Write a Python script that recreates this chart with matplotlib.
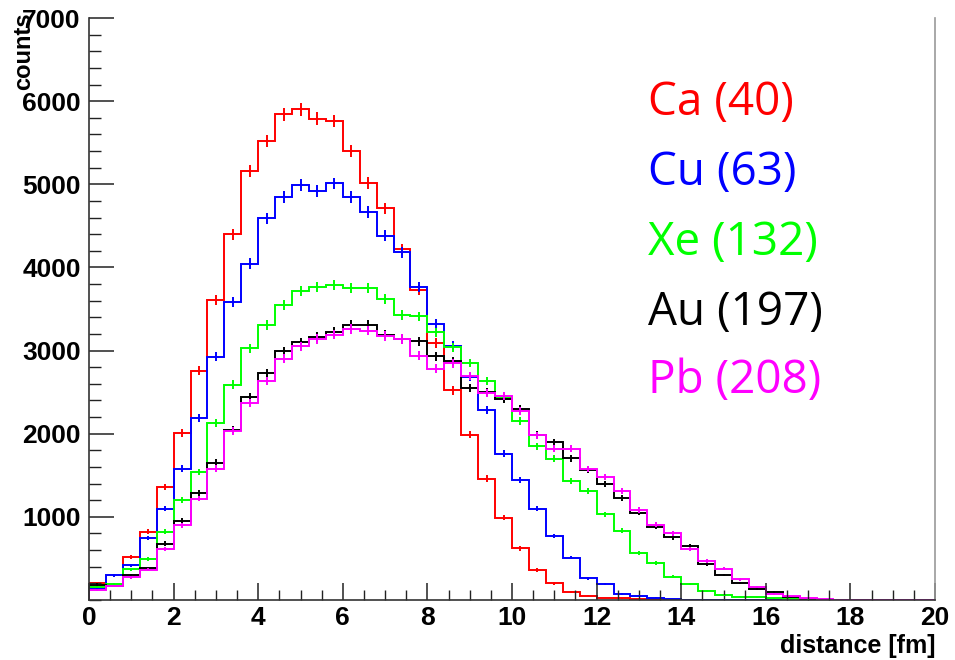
import numpy as np
import matplotlib
matplotlib.use("Agg")
import matplotlib.pyplot as plt
from matplotlib.ticker import MultipleLocator, FixedLocator

# ---- data (50 bins of 0.4 fm from 0 to 20 fm) ----
bin_lo = 0.0
bin_hi = 20.0
n_bins = 50

ca_40 = [200, 170, 520, 820, 1360, 2010, 2760, 3610, 4400, 5160,
         5520, 5840, 5900, 5790, 5760, 5400, 5020, 4710, 4220, 3730,
         3090, 2520, 1990, 1460, 990, 620, 360, 200, 100, 52,
         24, 20, 14, 8, 2, 0, 0, 0, 0, 0,
         0, 0, 0, 0, 0, 0, 0, 0, 0, 0]
cu_63 = [140, 295, 415, 745, 1100, 1580, 2185, 2925, 3580, 4045,
         4590, 4845, 4990, 4920, 5010, 4850, 4665, 4380, 4180, 3765,
         3325, 3060, 2680, 2290, 1760, 1440, 1100, 768, 510, 260,
         190, 72, 52, 30, 10, 3, 0, 0, 0, 0,
         0, 0, 0, 0, 0, 0, 0, 0, 0, 0]
xe_132 = [160, 190, 368, 492, 820, 1200, 1540, 2130, 2590, 3025,
          3310, 3550, 3720, 3765, 3790, 3750, 3750, 3625, 3430, 3410,
          3220, 3040, 2850, 2632, 2430, 2150, 1850, 1700, 1432, 1310,
          1030, 832, 560, 448, 280, 192, 112, 56, 42, 32,
          20, 12, 5, 1, 0, 0, 0, 0, 0, 0]
au_197 = [185, 170, 300, 380, 678, 952, 1292, 1652, 2050, 2444,
          2732, 2992, 3100, 3164, 3224, 3312, 3312, 3192, 3140, 3112,
          2930, 2872, 2552, 2500, 2420, 2295, 1985, 1895, 1705, 1564,
          1392, 1228, 1052, 880, 752, 652, 432, 300, 204, 130,
          100, 32, 12, 3, 0, 0, 0, 0, 0, 0]
pb_208 = [118, 165, 272, 364, 615, 900, 1220, 1580, 2032, 2364,
          2632, 2900, 3052, 3140, 3192, 3260, 3240, 3176, 3140, 2940,
          2780, 2845, 2692, 2490, 2452, 2272, 1980, 1820, 1820, 1575,
          1478, 1312, 1080, 904, 800, 612, 472, 375, 250, 158,
          72, 44, 24, 12, 3, 0, 0, 0, 0, 0]

series_labels = ["Ca (40)", "Cu (63)", "Xe (132)", "Au (197)", "Pb (208)"]
series_colors = ["#ff0000", "#0000ff", "#00ff00", "#000000", "#ff00ff"]
series_values = [ca_40, cu_63, xe_132, au_197, pb_208]

x_ticks = [0, 2, 4, 6, 8, 10, 12, 14, 16, 18, 20]
y_ticks = [1000, 2000, 3000, 4000, 5000, 6000, 7000]

# ---- figure ----
W, H = 955, 660
fig = plt.figure(figsize=(W / 100, H / 100), dpi=100)
fig.patch.set_facecolor("white")
ax = fig.add_axes([89 / W, 60 / H, (935 - 89) / W, (600 - 18) / H])

edges = np.linspace(bin_lo, bin_hi, n_bins + 1)
centers = 0.5 * (edges[:-1] + edges[1:])

for vals, col in zip(series_values, series_colors):
    v = np.asarray(vals, dtype=float)
    ax.stairs(v, edges, color=col, lw=1.4)
    m = v > 0
    ax.errorbar(centers[m], v[m], yerr=np.sqrt(v[m]), fmt="none",
                ecolor=col, elinewidth=1.4, capsize=0)

ax.set_xlim(0, 20)
ax.set_ylim(0, 7000)

ax.xaxis.set_major_locator(FixedLocator(x_ticks))
ax.xaxis.set_minor_locator(MultipleLocator(0.5))
ax.yaxis.set_major_locator(FixedLocator(y_ticks))
ax.yaxis.set_minor_locator(MultipleLocator(200))

lab_font = dict(family=["Liberation Sans", "DejaVu Sans"], weight="bold")
ax.set_xticklabels([str(t) for t in x_ticks], fontsize=19, **lab_font)
ax.set_yticklabels([str(t) for t in y_ticks], fontsize=19, **lab_font)

ax.tick_params(axis="x", which="major", direction="in", length=12, width=1.1,
               pad=4, color="#222222")
ax.tick_params(axis="x", which="minor", direction="in", length=7, width=1.0,
               color="#222222")
ax.tick_params(axis="y", which="major", direction="in", length=18, width=1.1,
               pad=6, color="#222222")
ax.tick_params(axis="y", which="minor", direction="in", length=8.5, width=1.0,
               color="#222222")

ax.spines["top"].set_visible(False)
ax.spines["right"].set_color("#999999")
ax.spines["right"].set_linewidth(1.2)
ax.spines["left"].set_color("#333333")
ax.spines["left"].set_linewidth(1.2)
ax.spines["bottom"].set_color("#333333")
ax.spines["bottom"].set_linewidth(1.2)

# axis titles
fig.text(24 / W, 1 - 12 / H, "counts", rotation=90, ha="center", va="top",
         fontsize=17, **lab_font)
fig.text(935 / W, 1 - 646 / H, "distance [fm]", ha="right", va="center",
         fontsize=18, **lab_font)

# legend-like labels
baselines = [115, 185, 255, 325, 393]
for lab, col, b in zip(series_labels, series_colors, baselines):
    fig.text(648 / W, 1 - b / H, lab, color=col, fontsize=33,
             family=["Open Sans", "DejaVu Sans"], ha="left", va="baseline")

fig.savefig("out.png", dpi=100)
